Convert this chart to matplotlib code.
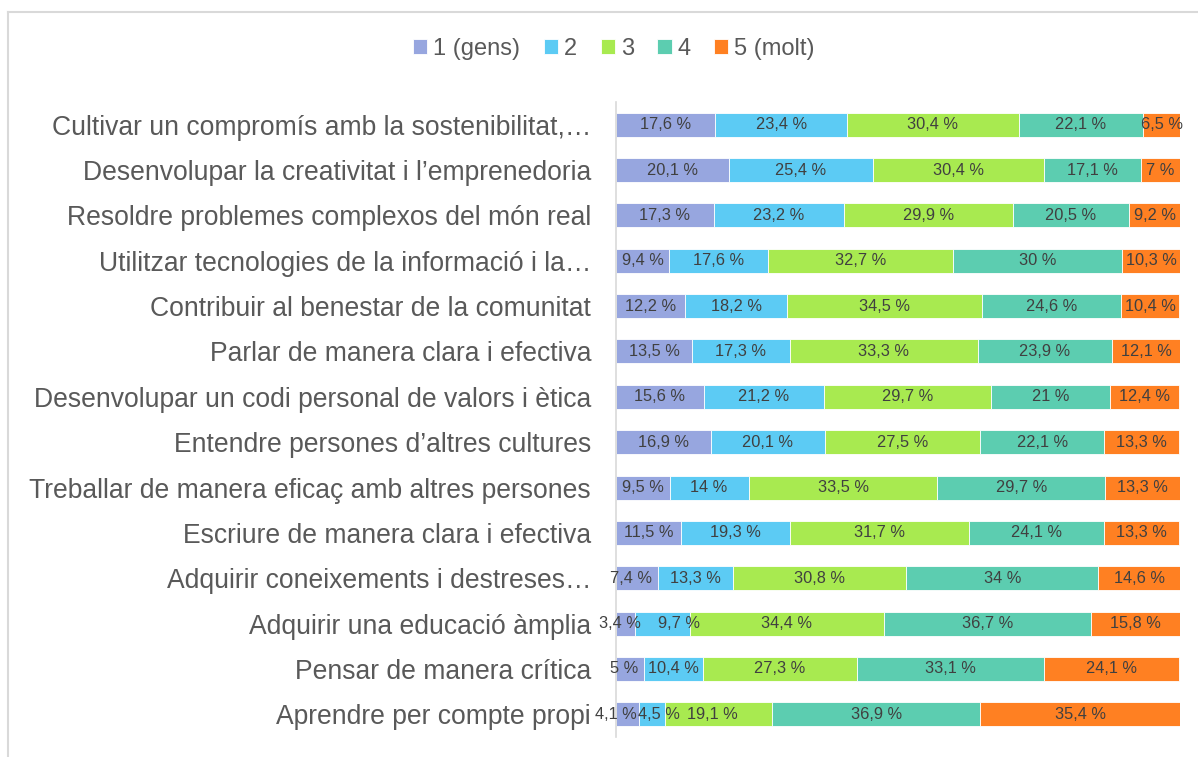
import matplotlib
matplotlib.use("Agg")
import matplotlib.pyplot as plt
from matplotlib.lines import Line2D
import numpy as np

plt.rcParams['font.family'] = ['Liberation Sans', 'DejaVu Sans']

categories = [
    "Cultivar un compromís amb la sostenibilitat,…",
    "Desenvolupar la creativitat i l’emprenedoria",
    "Resoldre problemes complexos del món real",
    "Utilitzar tecnologies de la informació i la…",
    "Contribuir al benestar de la comunitat",
    "Parlar de manera clara i efectiva",
    "Desenvolupar un codi personal de valors i ètica",
    "Entendre persones d’altres cultures",
    "Treballar de manera eficaç amb altres persones",
    "Escriure de manera clara i efectiva",
    "Adquirir coneixements i destreses…",
    "Adquirir una educació àmplia",
    "Pensar de manera crítica",
    "Aprendre per compte propi",
]

series_names = ["1 (gens)", "2", "3", "4", "5 (molt)"]
colors = ["#97a6df", "#5ccbf4", "#a8ea50", "#5ccdb0", "#ff8022"]

v1 = [17.6, 20.1, 17.3, 9.4, 12.2, 13.5, 15.6, 16.9, 9.5, 11.5, 7.4, 3.4, 5.0, 4.1]
v2 = [23.4, 25.4, 23.2, 17.6, 18.2, 17.3, 21.2, 20.1, 14.0, 19.3, 13.3, 9.7, 10.4, 4.5]
v3 = [30.4, 30.4, 29.9, 32.7, 34.5, 33.3, 29.7, 27.5, 33.5, 31.7, 30.8, 34.4, 27.3, 19.1]
v4 = [22.1, 17.1, 20.5, 30.0, 24.6, 23.9, 21.0, 22.1, 29.7, 24.1, 34.0, 36.7, 33.1, 36.9]
v5 = [6.5, 7.0, 9.2, 10.3, 10.4, 12.1, 12.4, 13.3, 13.3, 13.3, 14.6, 15.8, 24.1, 35.4]
series = [v1, v2, v3, v4, v5]

# label nudges (row, series) -> shift along x, to keep small-segment labels apart
nudges = {(10, 0): -1.0, (11, 0): -1.0, (11, 1): 3.0,
          (12, 0): -1.0, (13, 0): -2.0, (13, 1): 1.3, (13, 2): -1.0}


def fmt(v):
    s = f"{v:.1f}".rstrip("0").rstrip(".")
    return s.replace(".", ",") + " %"


fig = plt.figure(figsize=(11.98, 7.57), dpi=100)
ax = fig.add_axes([616 / 1198, 1 - 737 / 757, (1180 - 616) / 1198, (737 - 102) / 757])

y = np.arange(len(categories))
left = np.zeros(len(categories))
handles = []
for si, (name, vals, c) in enumerate(zip(series_names, series, colors)):
    vals = np.array(vals)
    bars = ax.barh(y, vals, left=left, height=0.53, color=c, edgecolor="white",
                   linewidth=0.6, label=name)
    handles.append(bars)
    for yi, l, v in zip(y, left, vals):
        dx = nudges.get((yi, si), 0.0)
        ax.text(l + v / 2 + dx, yi, fmt(v), ha="center", va="center",
                fontsize=11.8, color="#404040")
    left = left + vals

ax.set_xlim(0, 100)
ax.set_ylim(len(categories) - 0.5, -0.5)
ax.set_yticks(y)
ax.set_yticklabels(categories, fontsize=19.1, color="#595959")
ax.tick_params(axis="y", length=0, pad=18)
ax.set_xticks([])
for s in ["top", "right", "bottom"]:
    ax.spines[s].set_visible(False)
ax.spines["left"].set_color("#d9d9d9")
ax.spines["left"].set_linewidth(1.2)

fig.legend(handles=handles, labels=series_names, loc="center",
           bbox_to_anchor=(614 / 1198, 1 - 49 / 757), ncol=5, frameon=False,
           fontsize=17, handlelength=0.6, handleheight=0.6, handletextpad=0.25,
           columnspacing=1.0, labelcolor="#595959")

# chart border (light gray frame, cut at the right and bottom)
fig.add_artist(Line2D([8 / 1198, 1], [1 - 12 / 757, 1 - 12 / 757],
                      transform=fig.transFigure, color="#d9d9d9", linewidth=1.5))
fig.add_artist(Line2D([8 / 1198, 8 / 1198], [0, 1 - 12 / 757],
                      transform=fig.transFigure, color="#d9d9d9", linewidth=1.5))

fig.savefig("out.png", dpi=100, facecolor="white")
